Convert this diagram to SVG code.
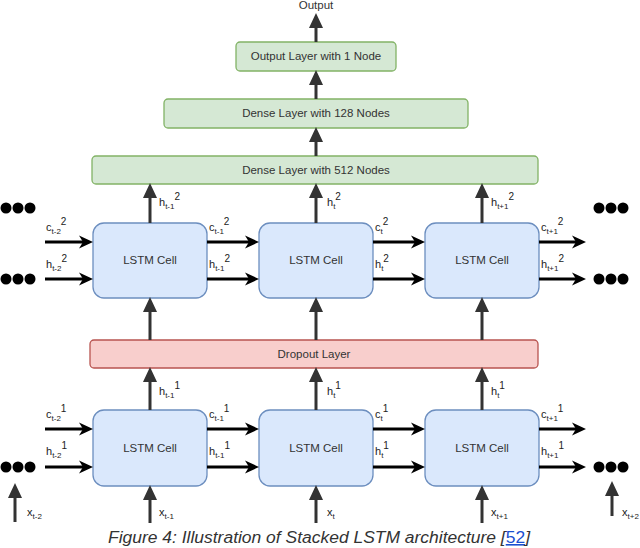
<svg xmlns="http://www.w3.org/2000/svg" width="640" height="548" viewBox="0 0 640 548">
<style>
text{font-family:"Liberation Sans",Arial,sans-serif;fill:#333;}
.box{font-size:11.5px;text-anchor:middle;}
.lbl{font-size:11px;fill:#222;}
.g{fill:#d5e8d4;stroke:#82b366;stroke-width:1.3;}
.b{fill:#dae8fc;stroke:#6c8ebf;stroke-width:1.3;}
.r{fill:#f8cecc;stroke:#b85450;stroke-width:1.3;}
.v{stroke:#333;stroke-width:3;fill:none;marker-end:url(#mv);}
.h{stroke:#000;stroke-width:3;fill:none;marker-end:url(#mh);}
.dot{fill:#000;}
</style>
<defs>
<marker id="mv" markerUnits="userSpaceOnUse" markerWidth="16" markerHeight="16" refX="6" refY="7" orient="auto" overflow="visible">
<path d="M0,0 L15,7 L0,14 Z" fill="#333"/>
</marker>
<marker id="mh" markerUnits="userSpaceOnUse" markerWidth="16" markerHeight="16" refX="6" refY="6.5" orient="auto" overflow="visible">
<path d="M0,0 L14,6.5 L0,13 L4,6.5 Z" fill="#000"/>
</marker>
</defs>

<g id="output-label"><text x="316" y="9" class="box" font-size="10">Output</text></g>

<g id="output-layer"><rect class="g" x="236" y="42" width="160" height="29" rx="4"/><text class="box" x="316" y="60">Output Layer with 1 Node</text></g>
<g id="dense128"><rect class="g" x="164" y="99" width="304" height="29" rx="4"/><text class="box" x="316" y="117">Dense Layer with 128 Nodes</text></g>
<g id="dense512"><rect class="g" x="92" y="156" width="446" height="28" rx="4"/><text class="box" x="316" y="174">Dense Layer with 512 Nodes</text></g>

<g id="cell2a"><rect class="b" x="93" y="223" width="114" height="75" rx="11"/><text class="box" x="150" y="264">LSTM Cell</text></g>
<g id="cell2b"><rect class="b" x="259" y="223" width="114" height="75" rx="11"/><text class="box" x="316" y="264">LSTM Cell</text></g>
<g id="cell2c"><rect class="b" x="425" y="223" width="114" height="75" rx="11"/><text class="box" x="482" y="264">LSTM Cell</text></g>

<g id="dropout"><rect class="r" x="90" y="340" width="448" height="28" rx="4"/><text class="box" x="314" y="358">Dropout Layer</text></g>

<g id="cell1a"><rect class="b" x="93" y="410" width="114" height="76" rx="11"/><text class="box" x="150" y="452">LSTM Cell</text></g>
<g id="cell1b"><rect class="b" x="259" y="410" width="114" height="76" rx="11"/><text class="box" x="316" y="452">LSTM Cell</text></g>
<g id="cell1c"><rect class="b" x="425" y="410" width="114" height="76" rx="11"/><text class="box" x="482" y="452">LSTM Cell</text></g>

<g id="dots">
<circle class="dot" cx="6" cy="208" r="5.5"/><circle class="dot" cx="18" cy="208" r="5.5"/><circle class="dot" cx="30" cy="208" r="5.5"/>
<circle class="dot" cx="6" cy="279" r="5.5"/><circle class="dot" cx="18" cy="279" r="5.5"/><circle class="dot" cx="30" cy="279" r="5.5"/>
<circle class="dot" cx="6" cy="467" r="5.5"/><circle class="dot" cx="18" cy="467" r="5.5"/><circle class="dot" cx="30" cy="467" r="5.5"/>
<circle class="dot" cx="599" cy="208" r="5.5"/><circle class="dot" cx="611" cy="208" r="5.5"/><circle class="dot" cx="623" cy="208" r="5.5"/>
<circle class="dot" cx="599" cy="279" r="5.5"/><circle class="dot" cx="611" cy="279" r="5.5"/><circle class="dot" cx="623" cy="279" r="5.5"/>
<circle class="dot" cx="599" cy="467" r="5.5"/><circle class="dot" cx="611" cy="467" r="5.5"/><circle class="dot" cx="623" cy="467" r="5.5"/>
</g>

<g id="connectors">
<line class="v" x1="316" y1="42" x2="316" y2="22"/>
<line class="v" x1="316" y1="99" x2="316" y2="79"/>
<line class="v" x1="316" y1="156" x2="316" y2="136"/>
<line class="v" x1="150" y1="223" x2="150" y2="192"/>
<line class="v" x1="316" y1="223" x2="316" y2="192"/>
<line class="v" x1="482" y1="223" x2="482" y2="192"/>
<line class="v" x1="150" y1="340" x2="150" y2="306"/>
<line class="v" x1="316" y1="340" x2="316" y2="306"/>
<line class="v" x1="482" y1="340" x2="482" y2="306"/>
<line class="v" x1="150" y1="410" x2="150" y2="376"/>
<line class="v" x1="316" y1="410" x2="316" y2="376"/>
<line class="v" x1="482" y1="410" x2="482" y2="376"/>
<line class="v" x1="150" y1="523" x2="150" y2="494"/>
<line class="v" x1="316" y1="523" x2="316" y2="494"/>
<line class="v" x1="482" y1="523" x2="482" y2="494"/>
<line class="v" x1="15" y1="522" x2="15" y2="492"/>
<line class="v" x1="612" y1="516" x2="612" y2="490"/>

<line class="h" x1="45" y1="242" x2="85" y2="242"/>
<line class="h" x1="45" y1="279" x2="85" y2="279"/>
<line class="h" x1="207" y1="242" x2="251" y2="242"/>
<line class="h" x1="207" y1="279" x2="251" y2="279"/>
<line class="h" x1="373" y1="242" x2="417" y2="242"/>
<line class="h" x1="373" y1="279" x2="417" y2="279"/>
<line class="h" x1="539" y1="242" x2="578" y2="242"/>
<line class="h" x1="539" y1="279" x2="578" y2="279"/>

<line class="h" x1="45" y1="429" x2="85" y2="429"/>
<line class="h" x1="45" y1="467" x2="85" y2="467"/>
<line class="h" x1="207" y1="429" x2="251" y2="429"/>
<line class="h" x1="207" y1="467" x2="251" y2="467"/>
<line class="h" x1="373" y1="429" x2="417" y2="429"/>
<line class="h" x1="373" y1="467" x2="417" y2="467"/>
<line class="h" x1="539" y1="429" x2="578" y2="429"/>
<line class="h" x1="539" y1="467" x2="578" y2="467"/>
</g>

<g id="labels">
<text class="lbl" x="46" y="231">c<tspan font-size="8" dy="3">t-2</tspan><tspan font-size="10" dy="-9">2</tspan></text>
<text class="lbl" x="46" y="268">h<tspan font-size="8" dy="3">t-2</tspan><tspan font-size="10" dy="-9">2</tspan></text>
<text class="lbl" x="209" y="231">c<tspan font-size="8" dy="3">t-1</tspan><tspan font-size="10" dy="-9">2</tspan></text>
<text class="lbl" x="209" y="268">h<tspan font-size="8" dy="3">t-1</tspan><tspan font-size="10" dy="-9">2</tspan></text>
<text class="lbl" x="375" y="231">c<tspan font-size="8" dy="3">t</tspan><tspan font-size="10" dy="-9">2</tspan></text>
<text class="lbl" x="375" y="268">h<tspan font-size="8" dy="3">t</tspan><tspan font-size="10" dy="-9">2</tspan></text>
<text class="lbl" x="541" y="231">c<tspan font-size="8" dy="3">t+1</tspan><tspan font-size="10" dy="-9">2</tspan></text>
<text class="lbl" x="541" y="268">h<tspan font-size="8" dy="3">t+1</tspan><tspan font-size="10" dy="-9">2</tspan></text>
<text class="lbl" x="159" y="206">h<tspan font-size="8" dy="3">t-1</tspan><tspan font-size="10" dy="-9">2</tspan></text>
<text class="lbl" x="327" y="206">h<tspan font-size="8" dy="3">t</tspan><tspan font-size="10" dy="-9">2</tspan></text>
<text class="lbl" x="491" y="206">h<tspan font-size="8" dy="3">t+1</tspan><tspan font-size="10" dy="-9">2</tspan></text>

<text class="lbl" x="46" y="418">c<tspan font-size="8" dy="3">t-2</tspan><tspan font-size="10" dy="-9">1</tspan></text>
<text class="lbl" x="46" y="455">h<tspan font-size="8" dy="3">t-2</tspan><tspan font-size="10" dy="-9">1</tspan></text>
<text class="lbl" x="209" y="418">c<tspan font-size="8" dy="3">t-1</tspan><tspan font-size="10" dy="-9">1</tspan></text>
<text class="lbl" x="209" y="455">h<tspan font-size="8" dy="3">t-1</tspan><tspan font-size="10" dy="-9">1</tspan></text>
<text class="lbl" x="375" y="418">c<tspan font-size="8" dy="3">t</tspan><tspan font-size="10" dy="-9">1</tspan></text>
<text class="lbl" x="375" y="455">h<tspan font-size="8" dy="3">t</tspan><tspan font-size="10" dy="-9">1</tspan></text>
<text class="lbl" x="541" y="418">c<tspan font-size="8" dy="3">t+1</tspan><tspan font-size="10" dy="-9">1</tspan></text>
<text class="lbl" x="541" y="455">h<tspan font-size="8" dy="3">t+1</tspan><tspan font-size="10" dy="-9">1</tspan></text>
<text class="lbl" x="159" y="395">h<tspan font-size="8" dy="3">t-1</tspan><tspan font-size="10" dy="-9">1</tspan></text>
<text class="lbl" x="327" y="395">h<tspan font-size="8" dy="3">t</tspan><tspan font-size="10" dy="-9">1</tspan></text>
<text class="lbl" x="491" y="395">h<tspan font-size="8" dy="3">t</tspan><tspan font-size="10" dy="-9">1</tspan></text>

<text class="lbl" x="27" y="516">x<tspan font-size="8" dy="3">t-2</tspan></text>
<text class="lbl" x="159" y="516">x<tspan font-size="8" dy="3">t-1</tspan></text>
<text class="lbl" x="327" y="516">x<tspan font-size="8" dy="3">t</tspan></text>
<text class="lbl" x="491" y="516">x<tspan font-size="8" dy="3">t+1</tspan></text>
<text class="lbl" x="622" y="516">x<tspan font-size="8" dy="3">t+2</tspan></text>
</g>

<g id="caption"><text x="108" y="543" font-size="16" font-style="italic" fill="#111" textLength="422" lengthAdjust="spacingAndGlyphs">Figure 4: Illustration of Stacked LSTM architecture [<tspan fill="#1a4fd0" text-decoration="underline" font-style="normal">52</tspan>]</text></g>
</svg>
